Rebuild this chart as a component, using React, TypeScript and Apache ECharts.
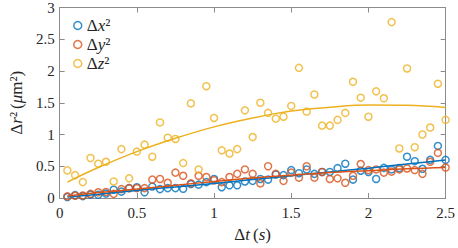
import React, { useEffect, useRef } from "react";
import * as echarts from "echarts";

const times = [
  0.05, 0.1, 0.15, 0.2, 0.25, 0.3, 0.35, 0.4, 0.45, 0.5,
  0.55, 0.6, 0.65, 0.7, 0.75, 0.8, 0.85, 0.9, 0.95, 1.0,
  1.05, 1.1, 1.15, 1.2, 1.25, 1.3, 1.35, 1.4, 1.45, 1.5,
  1.55, 1.6, 1.65, 1.7, 1.75, 1.8, 1.85, 1.9, 1.95, 2.0,
  2.05, 2.1, 2.15, 2.2, 2.25, 2.3, 2.35, 2.4, 2.45, 2.5,
];

const dx2 = [
  0.015, 0.045, 0.03, 0.055, 0.05, 0.07, 0.13, 0.1, 0.155, 0.17,
  0.09, 0.18, 0.14, 0.155, 0.155, 0.145, 0.22, 0.21, 0.25, 0.3,
  0.17, 0.2, 0.2, 0.26, 0.27, 0.3, 0.29, 0.37, 0.36, 0.44,
  0.39, 0.45, 0.38, 0.41, 0.41, 0.47, 0.54, 0.29, 0.43, 0.41,
  0.3, 0.475, 0.45, 0.47, 0.65, 0.58, 0.46, 0.6, 0.82, 0.6,
];

const dy2 = [
  0.025, 0.035, 0.04, 0.065, 0.09, 0.095, 0.065, 0.14, 0.155, 0.155,
  0.155, 0.29, 0.3, 0.24, 0.4, 0.35, 0.23, 0.35, 0.33, 0.28,
  0.25, 0.33, 0.38, 0.45, 0.38, 0.23, 0.5, 0.38, 0.27, 0.4,
  0.32, 0.5, 0.32, 0.41, 0.3, 0.31, 0.24, 0.35, 0.535, 0.44,
  0.45, 0.4, 0.415, 0.45, 0.465, 0.44, 0.38, 0.57, 0.71, 0.48,
];

const dz2 = [
  0.435, 0.36, 0.25, 0.63, 0.54, 0.57, 0.26, 0.77, 0.31, 0.73,
  0.84, 0.65, 1.19, 0.95, 0.93, 0.55, 1.49, 0.45, 1.76, 1.26,
  0.75, 0.7, 0.77, 1.38, 0.96, 1.5, 1.34, 1.25, 1.28, 1.45,
  2.05, 1.36, 1.63, 1.14, 1.14, 1.23, 1.34, 1.83, 1.58, 1.28,
  1.68, 1.57, 2.77, 0.78, 2.04, 0.8, 1.0, 1.11, 1.8, 1.23,
];

// fitted curves
const fitTimes = [0.05, 0.25, 0.5, 0.75, 1.0, 1.25, 1.5, 1.75, 2.0, 2.25, 2.5];
const fitX = [0.015, 0.06, 0.12, 0.175, 0.23, 0.29, 0.35, 0.41, 0.47, 0.535, 0.6];
const fitY = [0.03, 0.085, 0.14, 0.2, 0.26, 0.315, 0.36, 0.4, 0.43, 0.46, 0.48];
const fitZ = [0.25, 0.48, 0.73, 0.94, 1.12, 1.26, 1.37, 1.43, 1.465, 1.46, 1.425];

const BLUE = "#0072BD";
const RED = "#D95319";
const YELLOW = "#EDB120";
const AXIS = "#8c8c8c";
const TEXT = "#262626";
const FONT = "Liberation Serif";

const names = ["Δx²", "Δy²", "Δz²"];
const legendRich: Record<string, string> = {
  "Δx²": "{d|Δ}{i|x}{d|²}",
  "Δy²": "{d|Δ}{i|y}{d|²}",
  "Δz²": "{d|Δ}{i|z}{d|²}",
};

const richStyles = (size: number) => ({
  d: { fontFamily: FONT, fontSize: size, color: TEXT },
  i: { fontFamily: FONT, fontSize: size, fontStyle: "italic", color: TEXT },
});

export default function App() {
  const ref = useRef<HTMLDivElement>(null);
  useEffect(() => {
    if (!ref.current) return;
    const chart = echarts.init(ref.current, undefined, { renderer: "svg" });
    const pairs = (xs: number[], ys: number[]) => xs.map((t, i) => [t, ys[i]]);
    const scatter = (name: string, vals: number[], color: string) => ({
      name,
      type: "scatter",
      data: pairs(times, vals),
      symbol: "circle",
      symbolSize: 7,
      itemStyle: { color: "rgba(0,0,0,0)", borderColor: color, borderWidth: 1.5 },
      xAxisIndex: 0,
      yAxisIndex: 0,
    });
    const fit = (name: string, vals: number[], color: string) => ({
      name,
      type: "line",
      data: pairs(fitTimes, vals),
      smooth: 0.4,
      showSymbol: false,
      lineStyle: { color, width: 1.5 },
      xAxisIndex: 0,
      yAxisIndex: 0,
    });
    const axisCommon = {
      type: "value",
      axisLine: { show: true, onZero: false, lineStyle: { color: AXIS, width: 1 } },
      axisTick: { show: true, inside: true, length: 5, lineStyle: { color: AXIS } },
      splitLine: { show: false },
    };
    const tickLabel = {
      color: TEXT,
      fontFamily: FONT,
      fontSize: 15,
    };
    chart.setOption({
      animation: false,
      textStyle: { fontFamily: FONT },
      grid: { left: 47, right: 8, top: 5, bottom: 41, containLabel: false },
      legend: {
        orient: "vertical",
        left: 68,
        top: 12,
        itemWidth: 8,
        itemHeight: 8,
        itemGap: 2,
        data: [
          { name: names[0], icon: "circle", itemStyle: { color: "rgba(0,0,0,0)", borderColor: BLUE, borderWidth: 1.5 } },
          { name: names[1], icon: "circle", itemStyle: { color: "rgba(0,0,0,0)", borderColor: RED, borderWidth: 1.5 } },
          { name: names[2], icon: "circle", itemStyle: { color: "rgba(0,0,0,0)", borderColor: YELLOW, borderWidth: 1.5 } },
        ],
        formatter: (n: string) => legendRich[n] || n,
        textStyle: {
          color: TEXT,
          fontFamily: FONT,
          fontSize: 17,
          rich: richStyles(17),
        },
      },
      xAxis: [
        {
          ...axisCommon,
          min: 0,
          max: 2.5,
          interval: 0.5,
          position: "bottom",
          axisLabel: { ...tickLabel, margin: 7 },
          name: "{d|Δ}{i|t} {d|(}{i|s}{d|)}",
          nameLocation: "middle",
          nameGap: 28,
          nameTextStyle: { fontFamily: FONT, rich: richStyles(17) },
        },
        {
          ...axisCommon,
          min: 0,
          max: 2.5,
          interval: 0.5,
          position: "top",
          axisLabel: { show: false },
        },
      ],
      yAxis: [
        {
          ...axisCommon,
          min: 0,
          max: 3,
          interval: 0.5,
          position: "left",
          axisLabel: { ...tickLabel, margin: 5 },
          name: "{d|Δ}{i|r}{d|²} {d|(}{i|μ}{d|m²)}",
          nameLocation: "middle",
          nameGap: 31,
          nameTextStyle: { fontFamily: FONT, rich: richStyles(17) },
        },
        {
          ...axisCommon,
          min: 0,
          max: 3,
          interval: 0.5,
          position: "right",
          axisLabel: { show: false },
        },
      ],
      series: [
        scatter(names[0], dx2, BLUE),
        scatter(names[1], dy2, RED),
        scatter(names[2], dz2, YELLOW),
        fit("fit x", fitX, BLUE),
        fit("fit y", fitY, RED),
        fit("fit z", fitZ, YELLOW),
      ],
    });
    return () => chart.dispose();
  }, []);
  return <div ref={ref} style={{ width: 458, height: 248, position: "absolute", left: 0, top: 0 }} />;
}
